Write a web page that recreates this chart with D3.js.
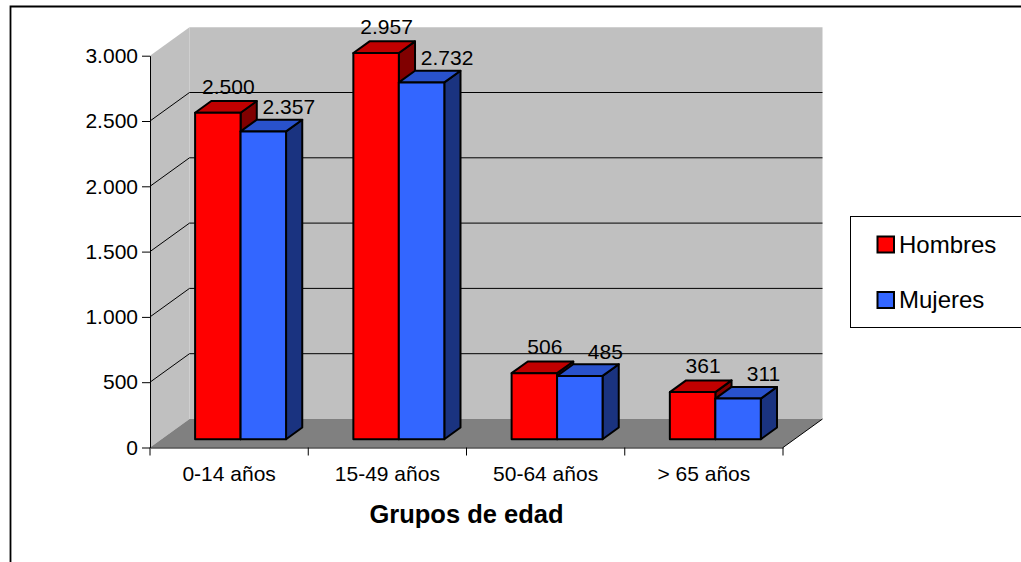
<!DOCTYPE html>
<html>
<head>
<meta charset="utf-8">
<script src="https://cdn.jsdelivr.net/npm/d3@7"></script>
<style>
  body { margin: 0; background: #fff; }
  svg { display: block; font-family: Arial, "Liberation Sans", sans-serif; }
</style>
</head>
<body>
<div id="chart"></div>
<script>
// data
var categories = ["0-14 años", "15-49 años", "50-64 años", "> 65 años"];
var seriesNames = ["Hombres", "Mujeres"];
var hombres = [2500, 2957, 506, 361];
var mujeres = [2357, 2732, 485, 311];
var yTicks = [0, 500, 1000, 1500, 2000, 2500, 3000];
var xTitle = "Grupos de edad";

var width = 1021, height = 562;

// colours per series: front, top, side
var colors = {
  Hombres: {front: "#ff0000", top: "#c00000", side: "#800000"},
  Mujeres: {front: "#3366ff", top: "#2952cc", side: "#1a3380"}
};

var es = d3.formatLocale({decimal: ",", thousands: ".", grouping: [3], currency: ["", " €"]});
var fmt = es.format(",d");

// depth of the 3d box and of the bars (fractions of the depth)
var depth = {dx: 39.5, dy: -28.5},
  f1 = 0.29, f2 = 0.70;

var x = d3.scaleBand().domain(categories).range([150, 783]).padding(0);
var xs = d3.scaleBand().domain(seriesNames).range([0, x.bandwidth()])
  .paddingInner(0).paddingOuter(0.74);
var y = d3.scaleLinear().domain([0, 3000]).range([447.5, 55.7]);

function p(px, py, f) { return [px + f * depth.dx, py + f * depth.dy]; }
var poly = function(pts) { return "M" + pts.map(function(d) { return d.join(","); }).join("L") + "Z"; };

var svg = d3.select("#chart").append("svg")
  .attr("width", width)
  .attr("height", height);

// outer frame
svg.append("path")
  .attr("d", "M10.5,600V6.5H1100")
  .attr("fill", "none")
  .attr("stroke", "#000")
  .attr("stroke-width", 1.8);

var x0 = x.range()[0], x1 = x.range()[1], y0 = y(0), yMax = y(3000);

// walls
svg.append("path")
  .attr("d", poly([p(x0, y0, 1), p(x1, y0, 1), p(x1, yMax, 1), p(x0, yMax, 1)]))
  .attr("fill", "#c0c0c0");
svg.append("path")
  .attr("d", poly([p(x0, y0, 0), p(x0, y0, 1), p(x0, yMax, 1), p(x0, yMax, 0)]))
  .attr("fill", "#c0c0c0");
// floor
svg.append("path")
  .attr("d", poly([p(x0, y0, 0), p(x1, y0, 0), p(x1, y0, 1), p(x0, y0, 1)]))
  .attr("fill", "#808080");

// gridlines on the side wall and back wall
svg.append("g").selectAll("path")
  .data(yTicks.slice(1, -1))
  .enter().append("path")
  .attr("d", function(t) {
    return "M" + p(x0, y(t), 0) + "L" + p(x0, y(t), 1) + "L" + p(x1, y(t), 1);
  })
  .attr("fill", "none")
  .attr("stroke", "#000")
  .attr("stroke-width", 1);

// right edge of the floor
svg.append("path")
  .attr("d", "M" + p(x1, y0, 0) + "L" + p(x1, y0, 1))
  .attr("stroke", "#000")
  .attr("stroke-width", 1);

// bars
var bars = [];
categories.forEach(function(c, i) {
  bars.push({cat: c, s: "Hombres", v: hombres[i]});
  bars.push({cat: c, s: "Mujeres", v: mujeres[i]});
});

var g = svg.selectAll(".bar")
  .data(bars)
  .enter().append("g")
  .attr("class", "bar");

function faces(d) {
  var a = x(d.cat) + xs(d.s), b = a + xs.bandwidth(), yt = y(d.v);
  return [
    {fill: colors[d.s].side, d: poly([p(b, yt, f1), p(b, yt, f2), p(b, y0, f2), p(b, y0, f1)])},
    {fill: colors[d.s].top, d: poly([p(a, yt, f1), p(b, yt, f1), p(b, yt, f2), p(a, yt, f2)])},
    {fill: colors[d.s].front, d: poly([p(a, yt, f1), p(b, yt, f1), p(b, y0, f1), p(a, y0, f1)])}
  ];
}

g.selectAll("path")
  .data(faces)
  .enter().append("path")
  .attr("d", function(d) { return d.d; })
  .attr("fill", function(d) { return d.fill; })
  .attr("stroke", "#000")
  .attr("stroke-width", 2)
  .attr("stroke-linejoin", "round");

// value labels, placed over the top face
var labelOff = {Hombres: {dx: 10.5, dy: -7}, Mujeres: {dx: 25.5, dy: -5.5}};
svg.append("g").selectAll("text")
  .data(bars)
  .enter().append("text")
  .attr("x", function(d) { return p(x(d.cat) + xs(d.s) + xs.bandwidth() / 2, 0, f1)[0] + labelOff[d.s].dx; })
  .attr("y", function(d) { return p(0, y(d.v), f2)[1] + labelOff[d.s].dy; })
  .attr("text-anchor", "middle")
  .attr("font-size", 21)
  .attr("fill", "#000")
  .text(function(d) { return fmt(d.v); });

// y axis
var yAxis = svg.append("g")
  .attr("transform", "translate(" + x0 + ",0)")
  .call(d3.axisLeft(y).tickValues(yTicks).tickSize(8).tickSizeOuter(0).tickPadding(4).tickFormat(fmt));
yAxis.selectAll("text").attr("font-size", 21).attr("font-family", null).attr("fill", "#000");
yAxis.selectAll("line, path").attr("stroke", "#000");

// x axis
var xAxis = svg.append("g")
  .attr("transform", "translate(0," + y0 + ")")
  .call(d3.axisBottom(x).tickSize(0).tickSizeOuter(0).tickPadding(18.6));
xAxis.selectAll("text").attr("font-size", 21).attr("font-family", null).attr("fill", "#000");
xAxis.select(".domain").attr("stroke", "#000");

// category boundary ticks
svg.append("g").selectAll("line")
  .data(categories.map(function(c) { return x(c); }).concat([x1]))
  .enter().append("line")
  .attr("x1", function(d) { return d; })
  .attr("x2", function(d) { return d; })
  .attr("y1", y0)
  .attr("y2", y0 + 8)
  .attr("stroke", "#000");

// axis title
svg.append("text")
  .attr("x", (x0 + x1) / 2)
  .attr("y", 523)
  .attr("text-anchor", "middle")
  .attr("font-size", 25.5)
  .attr("font-weight", "bold")
  .text(xTitle);

// legend
var legend = svg.append("g").attr("transform", "translate(850.5,216.5)");
legend.append("rect")
  .attr("width", 250)
  .attr("height", 111)
  .attr("fill", "#fff")
  .attr("stroke", "#000")
  .attr("stroke-width", 1);
var li = legend.selectAll(".item")
  .data(seriesNames)
  .enter().append("g")
  .attr("class", "item")
  .attr("transform", function(d, i) { return "translate(0," + (i * 55.5) + ")"; });
li.append("rect")
  .attr("x", 27)
  .attr("y", 20)
  .attr("width", 16.5)
  .attr("height", 16)
  .attr("fill", function(d) { return colors[d].front; })
  .attr("stroke", "#000")
  .attr("stroke-width", 2);
li.append("text")
  .attr("x", 48.5)
  .attr("y", 36.2)
  .attr("font-size", 24)
  .text(function(d) { return d; });
</script>
</body>
</html>
